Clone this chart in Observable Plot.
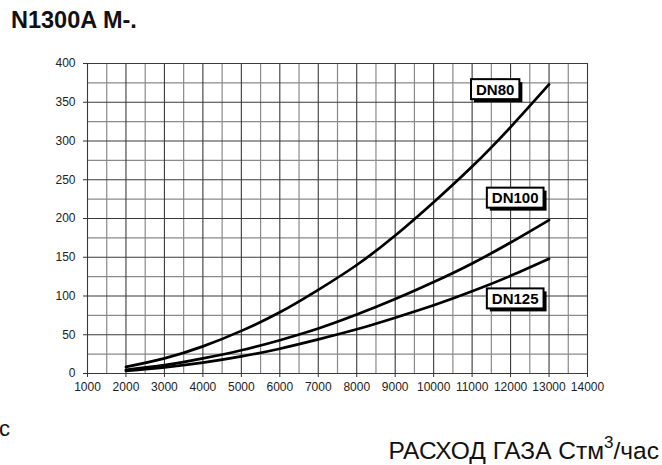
<!DOCTYPE html>
<html><head><meta charset="utf-8">
<script src="https://cdn.jsdelivr.net/npm/d3@7"></script>
<script src="https://cdn.jsdelivr.net/npm/@observablehq/plot@0.6"></script>
<style>
body{margin:0;background:#fff;font-family:Arial,"Liberation Sans",sans-serif;}
#wrap{position:relative;width:662px;height:465px;overflow:hidden;}
.t{position:absolute;line-height:1;white-space:nowrap;color:#111;}
#title{left:11px;top:9.4px;font-size:23.5px;font-weight:bold;}
#cut{left:-1px;top:418px;font-size:22px;}
#xtitle{right:3px;top:439px;font-size:24.5px;}
#xtitle sup{font-size:17px;vertical-align:0;position:relative;top:-11px;line-height:0;}
</style></head>
<body><div id="wrap"><div id="title" class="t">N1300A M-.</div><div id="cut" class="t">с</div><div id="xtitle" class="t">РАСХОД ГАЗА Стм<sup>3</sup>/час</div></div>
<script>
const flow = [2000,3000,4000,5000,6000,7000,8000,9000,10000,11000,12000,13000];
const dn80  = [8.5,19.5,35,55,79,108,140,178,221,267,318,373];
const dn100 = [4.8,10.8,19.5,30,43,58,76,96,118,142,169,198];
const dn125 = [3.5,8,14,22,32,44,57,72,88,106,126,148];
const seriesNames = ["DN80","DN100","DN125"];
const labelX = [11600,12120,12120];
const labelY = [366,226,96];
const xTicks = d3.range(1000,14001,1000);
const yTicks = d3.range(0,401,50);
const xGridMinor = d3.range(1500,14000,1000);
const yGridMinor = d3.range(25,400,50);

const rows = [];
[dn80,dn100,dn125].forEach((arr,i)=>arr.forEach((v,j)=>rows.push({series:seriesNames[i],q:flow[j],p:v})));
const labels = seriesNames.map((s,i)=>({s,x:labelX[i],y:labelY[i]}));

const chart = Plot.plot({
  width:662, height:465,
  marginLeft:87, marginRight:75, marginTop:63, marginBottom:92,
  style:{fontFamily:"Arial, 'Liberation Sans', sans-serif", fontSize:"12px", color:"#222", background:"transparent"},
  x:{domain:[1000,14000], label:null},
  y:{domain:[0,400], label:null},
  marks:[
    Plot.ruleX(xGridMinor,{stroke:"#8a8a8a",strokeWidth:1.2}),
    Plot.ruleY(yGridMinor,{stroke:"#8a8a8a",strokeWidth:1.2}),
    Plot.ruleX(xTicks,{stroke:"#3a3a3a",strokeWidth:1.1}),
    Plot.ruleY(yTicks,{stroke:"#3a3a3a",strokeWidth:1.1}),
    Plot.axisX({ticks:xTicks, tickFormat:d=>String(d), tickSize:4, tickPadding:5, stroke:"#333", fill:"#222", fontSize:12}),
    Plot.axisY({ticks:yTicks, tickFormat:d=>String(d), tickSize:4, tickPadding:8, stroke:"#333", fill:"#222", fontSize:12}),
    Plot.line(rows,{x:"q",y:"p",z:"series",stroke:"#000",strokeWidth:2.7,curve:"natural"}),
    Plot.text(labels,{x:"x",y:"y",text:"s",fontWeight:"bold",fontSize:15,fill:"#000",className:"dnlab"})
  ]
});
document.getElementById("wrap").prepend(chart);
chart.style.position="absolute"; chart.style.left="0"; chart.style.top="0";
const ns="http://www.w3.org/2000/svg";
chart.querySelectorAll("g.dnlab text").forEach(t=>{
  const b=t.getBBox();
  const padX=5,padY=1.5;
  const g=t.parentNode;
  const sh=document.createElementNS(ns,"rect");
  sh.setAttribute("x",b.x-padX+3);sh.setAttribute("y",b.y-padY+3);
  sh.setAttribute("width",b.width+2*padX);sh.setAttribute("height",b.height+2*padY);
  sh.setAttribute("fill","#000");
  const r=document.createElementNS(ns,"rect");
  r.setAttribute("x",b.x-padX);r.setAttribute("y",b.y-padY);
  r.setAttribute("width",b.width+2*padX);r.setAttribute("height",b.height+2*padY);
  r.setAttribute("fill","#fff");r.setAttribute("stroke","#000");r.setAttribute("stroke-width","2");
  const tr=t.getAttribute("transform");
  if(tr){sh.setAttribute("transform",tr);r.setAttribute("transform",tr);}
  g.insertBefore(sh,t);g.insertBefore(r,t);
});
</script></body></html>
